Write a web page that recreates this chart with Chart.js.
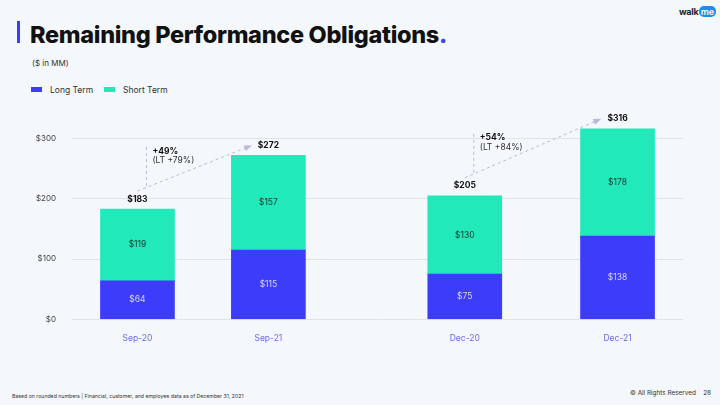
<!DOCTYPE html>
<html><head><meta charset="utf-8">
<script src="https://cdn.jsdelivr.net/npm/chart.js@4.4.1/dist/chart.umd.min.js"></script>
<style>
html,body{margin:0;padding:0;background:#f4f7fb;}
#wrap{position:relative;width:720px;height:405px;overflow:hidden;background:#f4f7fb;font-family:Inter,"Noto Sans",sans-serif;color:#222;}
#c{position:absolute;left:0;top:0;}
.t{position:absolute;white-space:nowrap;line-height:1;}
</style></head><body>
<div id="wrap">
  <div class="t" style="left:17px;top:21px;width:3px;height:22px;background:#3c3cfa"></div>
  <div class="t" id="title" style="left:30px;top:23px;font-size:23.5px;font-weight:800;color:#111;">Remaining Performance Obligations<span style="color:#3c3cfa">.</span></div>
  <div class="t" style="left:32px;top:59px;font-size:8px;color:#333;">($ in MM)</div>
  <div id="legend"></div>
  <div class="t" style="left:679px;top:6px;font-size:9px;font-weight:700;color:#1d1d2b;letter-spacing:-0.3px;">walk<span style="display:inline-block;background:#1e8cf0;color:#fff;border-radius:5px;padding:1px 2px;margin-left:0.5px;font-weight:600;">me</span></div>
  <div class="t" style="left:12px;top:394px;font-size:5.2px;color:#333;">Based on rounded numbers | Financial, customer, and employee data as of December 31, 2021</div>
  <div class="t" style="left:630px;top:390px;font-size:6.4px;color:#333;">© All Rights Reserved&nbsp;&nbsp;&nbsp;&nbsp;28</div>
  <canvas id="c" width="720" height="405"></canvas>
</div>
<script>
// ---- data ----
const categories = ['Sep-20', 'Sep-21', 'Dec-20', 'Dec-21'];
const longTerm = [64, 115, 75, 138];
const shortTerm = [119, 157, 130, 178];
const totals = [183, 272, 205, 316];
const yTicks = [0, 100, 200, 300];
const growthPairs = [[0, 1], [2, 3]];
const growthTotal = ['+49%', '+54%'];
const growthLT = ['(LT +79%)', '(LT +84%)'];
const seriesNames = ['Long Term', 'Short Term'];

// axis slots: blank category slots give the uneven spacing / gap of the original layout
const slotCount = 29;
const categorySlot = [3, 9, 18, 25];
const axisLabels = Array.from({ length: slotCount }, (_, s) => {
  const i = categorySlot.indexOf(s);
  return i >= 0 ? categories[i] : '';
});

const colors = ['#3c3cfa', '#22e9b9'];

// legend (html)
const lg = document.getElementById('legend');
const legX = [31, 104];
seriesNames.forEach((n, i) => {
  const sw = document.createElement('div');
  sw.className = 't';
  sw.style.cssText = `left:${legX[i]}px;top:87px;width:11px;height:5px;background:${colors[i]}`;
  lg.appendChild(sw);
  const tx = document.createElement('div');
  tx.className = 't';
  tx.style.cssText = `left:${legX[i] + 19}px;top:86px;font-size:8.5px;color:#333`;
  tx.textContent = n;
  lg.appendChild(tx);
});

// fit title width
(function () {
  const el = document.getElementById('title');
  const target = 417;
  const w = el.getBoundingClientRect().width;
  const n = el.textContent.length;
  el.style.letterSpacing = ((target - w) / n) + 'px';
})();

const pick = arr => axisLabels.map(l => { const i = categories.indexOf(l); return i >= 0 ? arr[i] : null; });

const labelPlugin = {
  id: 'labels',
  afterDatasetsDraw(chart) {
    const ctx = chart.ctx;
    const lt = chart.getDatasetMeta(0).data;
    const st = chart.getDatasetMeta(1).data;
    ctx.save();
    ctx.textAlign = 'center';
    ctx.textBaseline = 'middle';
    const labelY = [];
    categories.forEach((c, i) => {
      const s = categorySlot[i];
      const a = lt[s], b = st[s];
      ctx.font = '8.5px Inter, "Noto Sans", sans-serif';
      ctx.fillStyle = '#d8d8ff';
      ctx.fillText('$' + longTerm[i], a.x, (a.y + a.base) / 2);
      ctx.fillStyle = '#10352c';
      ctx.fillText('$' + shortTerm[i], b.x, (b.y + b.base) / 2);
      ctx.font = 'bold 8.5px Inter, "Noto Sans", sans-serif';
      ctx.fillStyle = '#111';
      const ly = b.y - 10;
      labelY.push(ly);
      ctx.fillText('$' + totals[i], b.x, ly);
    });
    // growth annotations
    growthPairs.forEach((p, k) => {
      const A = st[categorySlot[p[0]]], B = st[categorySlot[p[1]]];
      const sx = A.x, sy = labelY[p[0]] - 8;
      const ex = B.x - 19, ey = labelY[p[1]] + 1;
      ctx.strokeStyle = '#b7badf';
      ctx.fillStyle = '#b7badf';
      ctx.lineWidth = 1;
      ctx.setLineDash([3, 3]);
      ctx.beginPath(); ctx.moveTo(sx, sy); ctx.lineTo(ex, ey); ctx.stroke();
      const vx = sx + 9;
      const top = sy - 44;
      ctx.beginPath(); ctx.moveTo(vx, sy - 5); ctx.lineTo(vx, top); ctx.stroke();
      ctx.setLineDash([]);
      const ang = Math.atan2(ey - sy, ex - sx);
      ctx.beginPath();
      ctx.moveTo(ex + 3 * Math.cos(ang), ey + 3 * Math.sin(ang));
      ctx.lineTo(ex - 5 * Math.cos(ang) - 3 * Math.sin(ang), ey - 5 * Math.sin(ang) + 3 * Math.cos(ang));
      ctx.lineTo(ex - 5 * Math.cos(ang) + 3 * Math.sin(ang), ey - 5 * Math.sin(ang) - 3 * Math.cos(ang));
      ctx.closePath(); ctx.fill();
      ctx.textAlign = 'left';
      ctx.fillStyle = '#111';
      ctx.font = 'bold 8.5px Inter, "Noto Sans", sans-serif';
      ctx.fillText(growthTotal[k], vx + 6, top + 4);
      ctx.font = '8.5px Inter, "Noto Sans", sans-serif';
      ctx.fillStyle = '#333';
      ctx.fillText(growthLT[k], vx + 6, top + 13.5);
      ctx.textAlign = 'center';
    });
    ctx.restore();
  }
};

new Chart(document.getElementById('c'), {
  type: 'bar',
  data: {
    labels: axisLabels,
    datasets: [
      { label: seriesNames[0], data: pick(longTerm), backgroundColor: colors[0], barThickness: 74 },
      { label: seriesNames[1], data: pick(shortTerm), backgroundColor: colors[1], barThickness: 74 }
    ]
  },
  options: {
    responsive: false,
    animation: false,
    events: [],
    layout: { padding: { left: 0, right: 37, top: 108.4, bottom: 55.7 } },
    plugins: { legend: { display: false }, tooltip: { enabled: false } },
    scales: {
      x: {
        stacked: true,
        offset: false,
        grid: { display: false },
        border: { display: false },
        ticks: { autoSkip: false, maxRotation: 0, padding: 6, color: '#6b6bef', font: { family: 'Inter', size: 8.5 } },
        afterFit: s => { s.height = 30; }
      },
      y: {
        stacked: true,
        min: 0, max: 350,
        border: { display: false },
        grid: { color: '#dfe4ec', lineWidth: 1, drawTicks: false },
        ticks: { stepSize: 100, padding: 16, color: '#444', font: { family: 'Inter', size: 8 }, callback: v => '$' + v },
        afterBuildTicks: s => { s.ticks = s.ticks.filter(t => yTicks.includes(t.value)); },
        afterFit: s => { s.width = 72; }
      }
    }
  },
  plugins: [labelPlugin]
});
</script>
</body></html>
